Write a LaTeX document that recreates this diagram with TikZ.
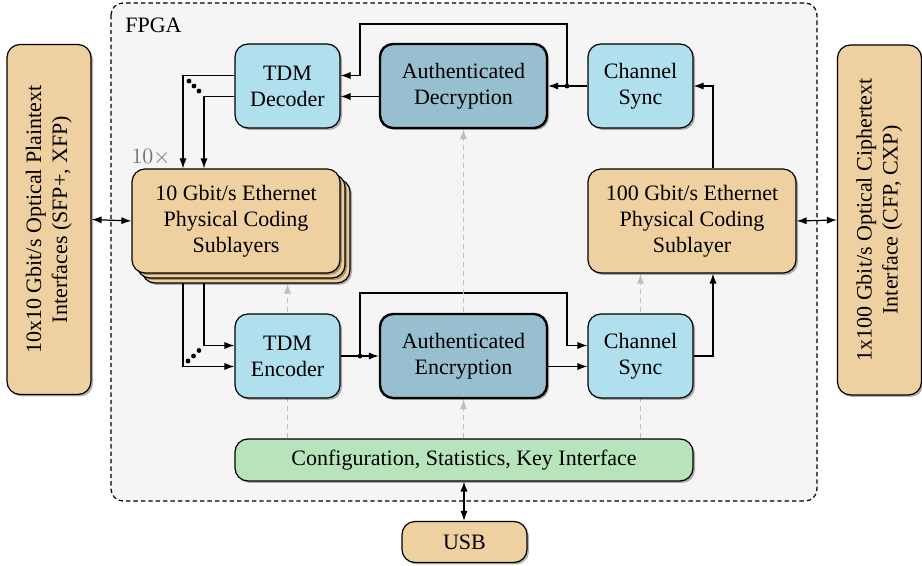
\documentclass[tikz,border=0pt]{standalone}
\usepackage{fontspec}
\setmainfont{Liberation Serif}
\usepackage{xcolor}
\usepackage{tikz}
\usetikzlibrary{arrows.meta,shadows}
\definecolor{fpgagray}{HTML}{F5F5F5}
\definecolor{tdmblue}{HTML}{B0DFEE}
\definecolor{cryptoblue}{HTML}{98BFCF}
\definecolor{phytan}{HTML}{EFD0A0}
\definecolor{ctrlgreen}{HTML}{B8E4BC}
\tikzstyle{block}=[draw=black, semithick, rounded corners=6.5pt, align=center, inner sep=2pt,
  drop shadow={shadow xshift=1pt, shadow yshift=-1pt, fill=black, opacity=0.3}]
\tikzstyle{tdm}=[block, fill=tdmblue, minimum width=52.5pt, minimum height=42pt]
\tikzstyle{crypto}=[block, fill=cryptoblue, line width=1.2pt, minimum width=83.5pt, minimum height=42pt]
\tikzstyle{phy}=[block, fill=phytan, minimum width=104pt, minimum height=52pt]
\tikzstyle{port}=[block, fill=phytan, minimum width=42pt, minimum height=175pt]
\tikzstyle{ctrl}=[block, fill=ctrlgreen, minimum width=229pt, minimum height=21pt]
\tikzstyle{usbbox}=[block, fill=phytan, minimum width=62.5pt, minimum height=20.5pt]
\tikzstyle{data edge}=[-{Latex[length=5pt, width=3.6pt]}, draw=black, semithick]
\tikzstyle{both edge}=[{Latex[length=5pt, width=3.6pt]}-{Latex[length=5pt, width=3.6pt]}, draw=black, semithick]
\tikzstyle{config edge}=[-{Latex[length=5pt, width=3.6pt]}, draw=black!25, semithick, dash pattern=on 2.5pt off 2pt]
\tikzstyle{split}=[fill=black, shape=circle, inner sep=0pt, minimum size=2.4pt]
\pgfdeclarelayer{background}
\pgfdeclarelayer{edgelayer}
\pgfsetlayers{background,edgelayer,main}
\begin{document}
\fontsize{11}{13}\selectfont
\begin{tikzpicture}[x=0.5pt, y=-0.5pt]
	\useasboundingbox (0,0) rectangle (922,566);
	\begin{pgfonlayer}{background}
		\draw [fill=fpgagray, dash pattern=on 2.2pt off 1.5pt, semithick, rounded corners=6pt] (111,3) rectangle (817,501);
	\end{pgfonlayer}
	\node [anchor=west, inner sep=0pt] (fpga) at (125,25) {FPGA};
	\node [text=black!55, inner sep=0pt] (times) at (151,157) {$10\times$};
	% ports
	\node [style=port] (lport) at (49,219.5) {\rotatebox{90}{\begin{tabular}{@{}c@{}}10x10 Gbit/s Optical Plaintext\\Interfaces (SFP+, XFP)\end{tabular}}};
	\node [style=port] (rport) at (879.5,220) {\rotatebox{90}{\begin{tabular}{@{}c@{}}1x100 Gbit/s Optical Ciphertext\\Interface (CFP, CXP)\end{tabular}}};
	% receive path
	\node [style=tdm] (dec) at (287.5,86) {TDM\\Decoder};
	\node [style=crypto] (adec) at (463.5,86) {Authenticated\\Decryption};
	\node [style=tdm] (syncrx) at (640.5,86) {Channel\\Sync};
	% phy layers
	\node [style=phy] (eth10b) at (246,231) {};
	\node [style=phy] (eth10a) at (241,226) {};
	\node [style=phy] (eth10) at (236,221) {10 Gbit/s Ethernet\\Physical Coding\\Sublayers};
	\node [style=phy] (eth100) at (692,221) {100 Gbit/s Ethernet\\Physical Coding\\Sublayer};
	% transmit path
	\node [style=tdm] (enc) at (287.5,356) {TDM\\Encoder};
	\node [style=crypto] (aenc) at (463.5,356) {Authenticated\\Encryption};
	\node [style=tdm] (synctx) at (640.5,356) {Channel\\Sync};
	% control
	\node [style=ctrl] (cfg) at (464,460) {Configuration, Statistics, Key Interface};
	\node [style=usbbox] (usb) at (464.5,542) {USB};
	\node [style=split] (rxsplit) at (567,86) {};
	\node [style=split] (txsplit) at (360,356) {};
	\coordinate (rxtop) at (360,24);
	\coordinate (txtop) at (567,293);
	\begin{pgfonlayer}{edgelayer}
		\draw [style=data edge] (syncrx.west) -- (adec.east);
		\draw [style=data edge] (rxsplit.center) |- (rxtop) |- ([yshift=5.25pt]dec.east);
		\draw [style=data edge] ([yshift=-5.25pt]adec.west) -- ([yshift=-5.25pt]dec.east);
		\draw [style=data edge] ([yshift=5.25pt]dec.west) -| ([xshift=-26.5pt]eth10.north);
		\draw [style=data edge] ([yshift=-5.25pt]dec.west) -| ([xshift=-16pt]eth10.north);
		\draw [style=data edge] ([xshift=-16pt]eth10.south) |- ([yshift=5.25pt]enc.west);
		\draw [style=data edge] ([xshift=-26.5pt]eth10.south) |- ([yshift=-5.25pt]enc.west);
		\draw [style=data edge] (enc.east) -- (aenc.west);
		\draw [style=data edge] (txsplit.center) |- (txtop) |- ([yshift=5.25pt]synctx.west);
		\draw [style=data edge] ([yshift=-5.25pt]aenc.east) -- ([yshift=-5.25pt]synctx.west);
		\draw [style=data edge] (synctx.east) -| ([xshift=10.5pt]eth100.south);
		\draw [style=data edge] ([xshift=10.5pt]eth100.north) |- (syncrx.east);
		\draw [style=both edge] (lport.east) -- (eth10.west);
		\draw [style=both edge] (eth100.east) -- (rport.west);
		\draw [style=both edge] (cfg.south) -- (cfg.south |- usb.north);
		\draw [style=config edge] (enc.south |- cfg.north) -- (enc.north |- eth10b.south);
		\draw [style=config edge] (aenc.south |- cfg.north) -- (aenc.south);
		\draw [style=config edge] (aenc.south |- cfg.north) -- (adec.south);
		\draw [style=config edge] (synctx.south |- cfg.north) -- (synctx.north |- eth100.south);
	\end{pgfonlayer}
	% channel dots
	\foreach \px/\py in {189/81, 194/86, 199/91, 188/361, 193.5/356, 199/350.5}
		\fill (\px,\py) circle (1.2pt);
\end{tikzpicture}
\end{document}
